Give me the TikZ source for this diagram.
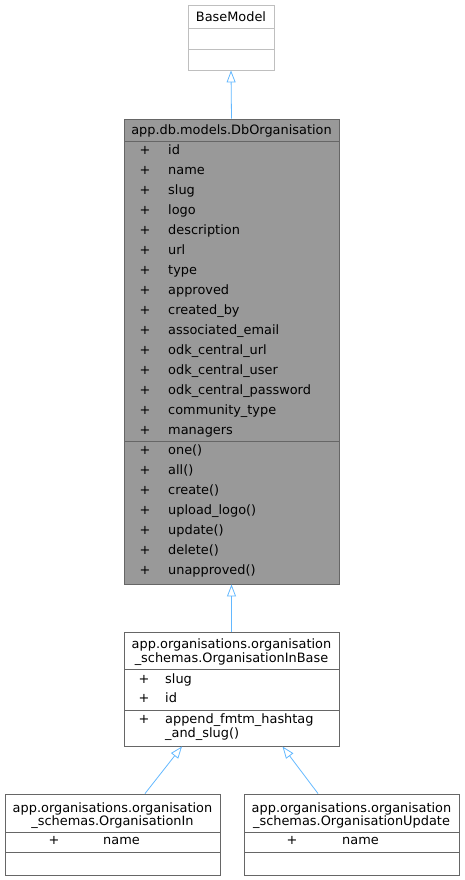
\documentclass[tikz,border=0pt]{standalone}
\usepackage{fontspec}
\setmainfont{DejaVu Sans}
\usetikzlibrary{arrows.meta}
\definecolor{edgeblue}{HTML}{63B8FF}
\definecolor{boxgray}{HTML}{666666}
\definecolor{lightgray}{HTML}{BFBFBF}
\definecolor{fillgray}{HTML}{999999}
\tikzset{
  umlbox/.style={draw=boxgray, line width=0.9pt, rectangle, inner sep=0pt, fill=white},
  sepline/.style={draw=boxgray, line width=0.9pt},
  txt/.style={inner sep=0pt, anchor=base west, font=\fontsize{12.9}{15}\selectfont},
  ctxt/.style={inner sep=0pt, anchor=base, font=\fontsize{12.9}{15}\selectfont},
  plus/.style={inner sep=0pt, anchor=base, font=\fontsize{12.9}{15}\selectfont},
  inh/.style={draw=edgeblue, line width=0.8pt, -{Triangle[open,length=12pt,width=9pt]}},
}
\begin{document}
\begin{tikzpicture}[x=1pt,y=-1pt]
\useasboundingbox (0,0) rectangle (464,880);
% BaseModel
\node[umlbox, draw=lightgray, minimum width=86pt, minimum height=65pt] (base) at (231,37.5) {};
\draw[draw=lightgray, line width=0.9pt] (188,28.5) -- (274,28.5);
\draw[draw=lightgray, line width=0.9pt] (188,49) -- (274,49);
\node[ctxt] (baset) at (231,21.5) {BaseModel};
% DbOrganisation
\node[umlbox, fill=fillgray, minimum width=215pt, minimum height=465pt] (dbo) at (231.5,351.5) {};
\draw[sepline] (124,141.5) -- (339,141.5);
\draw[sepline] (124,441) -- (339,441);
\node[ctxt] (dbot) at (231.5,135) {app.db.models.DbOrganisation};
\foreach \t [count=\i from 0] in {id,name,slug,logo,description,url,type,approved,created\_by,associated\_email,odk\_central\_url,odk\_central\_user,odk\_central\_password,community\_type,managers}{
  \node[plus] (dbop\i) at (145,154+20*\i) {+};
  \node[txt] (dboa\i) at (168,154+20*\i) {\t};
}
\foreach \t [count=\i from 0] in {one(),all(),create(),upload\_logo(),update(),delete(),unapproved()}{
  \node[plus] (dbomp\i) at (145,454+20*\i) {+};
  \node[txt] (dbom\i) at (168,454+20*\i) {\t};
}
% OrganisationInBase
\node[umlbox, minimum width=215pt, minimum height=114pt] (ib) at (231.5,689) {};
\draw[sepline] (124,669) -- (339,669);
\draw[sepline] (124,710) -- (339,710);
\node[ctxt] (ibt1) at (231.5,648) {app.organisations.organisation};
\node[ctxt] (ibt2) at (231.5,662) {\_schemas.OrganisationInBase};
\node[plus] (ibp1) at (144,683) {+};
\node[txt] (iba1) at (165,683) {slug};
\node[plus] (ibp2) at (144,702) {+};
\node[txt] (iba2) at (165,702) {id};
\node[plus] (ibp3) at (144,723) {+};
\node[txt] (ibm1) at (165,723) {append\_fmtm\_hashtag};
\node[txt] (ibm2) at (165,737) {\_and\_slug()};
% OrganisationIn
\node[umlbox, minimum width=215pt, minimum height=81pt] (oin) at (112.5,834.5) {};
\draw[sepline] (5,832) -- (220,832);
\draw[sepline] (5,852) -- (220,852);
\node[ctxt] (oint1) at (112.5,812) {app.organisations.organisation};
\node[ctxt] (oint2) at (112.5,825) {\_schemas.OrganisationIn};
\node[plus] (oinp) at (54,844) {+};
\node[txt] (oina) at (103,844) {name};
% OrganisationUpdate
\node[umlbox, minimum width=215pt, minimum height=81pt] (oup) at (351.5,834.5) {};
\draw[sepline] (244,832) -- (459,832);
\draw[sepline] (244,852) -- (459,852);
\node[ctxt] (oupt1) at (351.5,812) {app.organisations.organisation};
\node[ctxt] (oupt2) at (351.5,825) {\_schemas.OrganisationUpdate};
\node[plus] (oupp) at (292,844) {+};
\node[txt] (oupa) at (342,844) {name};
% connectors
\draw[inh] (dbo.north) -- (base.south);
\draw[inh] (ib.north) -- (dbo.south);
\draw[inh] ([xshift=32.5pt]oin.north) -- ([xshift=-49.5pt]ib.south);
\draw[inh] ([xshift=-33.5pt]oup.north) -- ([xshift=51pt]ib.south);
\end{tikzpicture}
\end{document}
